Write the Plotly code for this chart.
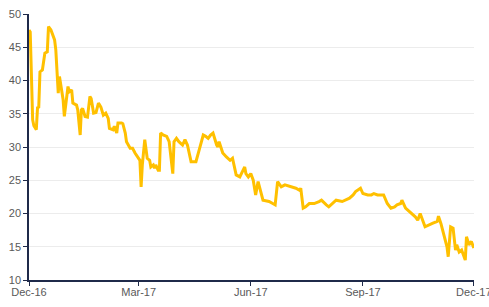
import plotly.graph_objects as go

dates = [
    "2016-12-01", "2016-12-02", "2016-12-04", "2016-12-05", "2016-12-07", "2016-12-08", "2016-12-09",
    "2016-12-10", "2016-12-12", "2016-12-14", "2016-12-16", "2016-12-17", "2016-12-19", "2016-12-22",
    "2016-12-23", "2016-12-25", "2016-12-26", "2016-12-28", "2016-12-29", "2016-12-30",
    "2017-01-01", "2017-01-02", "2017-01-03", "2017-01-05", "2017-01-06", "2017-01-09", "2017-01-10",
    "2017-01-12", "2017-01-13", "2017-01-14", "2017-01-16", "2017-01-18", "2017-01-20", "2017-01-21",
    "2017-01-23", "2017-01-25", "2017-01-27", "2017-01-29", "2017-01-31",
    "2017-02-02", "2017-02-04", "2017-02-05", "2017-02-08", "2017-02-09", "2017-02-11", "2017-02-12",
    "2017-02-15", "2017-02-16", "2017-02-18", "2017-02-19", "2017-02-22", "2017-02-24", "2017-02-26",
    "2017-02-28",
    "2017-03-02", "2017-03-03", "2017-03-04", "2017-03-06", "2017-03-07", "2017-03-08", "2017-03-10",
    "2017-03-11", "2017-03-13", "2017-03-14", "2017-03-15", "2017-03-17", "2017-03-18", "2017-03-19",
    "2017-03-21", "2017-03-24", "2017-03-26", "2017-03-29", "2017-03-30",
    "2017-04-01", "2017-04-03", "2017-04-06", "2017-04-08", "2017-04-10", "2017-04-13", "2017-04-17",
    "2017-04-20", "2017-04-23", "2017-04-25", "2017-04-27", "2017-04-29",
    "2017-05-01", "2017-05-04", "2017-05-05", "2017-05-06", "2017-05-09", "2017-05-12", "2017-05-15",
    "2017-05-17", "2017-05-20", "2017-05-23", "2017-05-27", "2017-05-28", "2017-05-30",
    "2017-06-01", "2017-06-03", "2017-06-05", "2017-06-06", "2017-06-07", "2017-06-11", "2017-06-16",
    "2017-06-19", "2017-06-21", "2017-06-23", "2017-06-26", "2017-06-29",
    "2017-07-04", "2017-07-08", "2017-07-11", "2017-07-12", "2017-07-14", "2017-07-16", "2017-07-19",
    "2017-07-23", "2017-07-27", "2017-07-29",
    "2017-08-02", "2017-08-04", "2017-08-10", "2017-08-15", "2017-08-21", "2017-08-24", "2017-08-26",
    "2017-08-30",
    "2017-09-01", "2017-09-05", "2017-09-08", "2017-09-10", "2017-09-13", "2017-09-18", "2017-09-21",
    "2017-09-24", "2017-09-27", "2017-09-29",
    "2017-10-02", "2017-10-03", "2017-10-06", "2017-10-10", "2017-10-14", "2017-10-16", "2017-10-18",
    "2017-10-22", "2017-10-25", "2017-10-28",
    "2017-11-01", "2017-11-02", "2017-11-04", "2017-11-07", "2017-11-09", "2017-11-10", "2017-11-12",
    "2017-11-14", "2017-11-16", "2017-11-17", "2017-11-19", "2017-11-21", "2017-11-23", "2017-11-24",
    "2017-11-25", "2017-11-27", "2017-11-29", "2017-12-01",
]

values = [
    47.6, 47.3, 34.1, 33.2, 32.6, 35.9, 36.0,
    41.3, 41.6, 44.1, 44.3, 48.1, 47.6, 46.1,
    44.6, 38.1, 40.6, 38.1, 37.1, 34.6,
    38.3, 39.1, 38.3, 38.6, 36.6, 36.3, 35.6,
    31.8, 35.6, 35.8, 34.6, 34.5, 37.6, 37.3,
    35.1, 35.2, 36.6, 36.0, 34.8,
    35.1, 34.3, 32.8, 32.6, 33.1, 32.1, 33.6,
    33.6, 33.5, 32.1, 30.8, 29.8, 29.8, 29.1,
    28.5,
    28.0, 24.0, 27.3, 31.1, 29.6, 28.3, 28.0,
    27.0, 27.3, 26.8, 27.3, 26.5, 26.5, 32.1,
    31.8, 31.6, 30.8, 26.0, 30.8,
    31.3, 30.8, 30.3, 31.1, 30.3, 27.8, 27.8,
    29.8, 31.8, 31.6, 31.3, 31.8,
    32.1, 30.3, 30.0, 30.8, 29.1, 28.5, 28.0,
    28.3, 25.8, 25.5, 27.0, 26.0, 25.5,
    26.0, 25.0, 22.8, 24.0, 24.8, 22.0, 21.8,
    21.5, 21.3, 24.8, 24.0, 24.3,
    24.0, 23.8, 23.5, 23.8, 20.8, 21.0, 21.5,
    21.5, 21.8, 22.0,
    21.3, 21.0, 22.0, 21.8, 22.3, 22.8, 23.3,
    23.8,
    23.0, 22.8, 22.8, 23.0, 22.8, 22.8, 21.5,
    20.8, 21.0, 21.3,
    21.5, 22.0, 20.8, 20.2, 19.5, 19.0, 20.0,
    18.0, 18.3, 18.5,
    18.8, 19.6, 18.5, 16.5, 15.0, 13.5, 18.0,
    17.8, 14.5, 15.3, 14.2, 14.5, 13.5, 13.0,
    16.5, 15.3, 15.8, 14.8,
]

x_ticks = ["2016-12-01", "2017-03-01", "2017-06-01", "2017-09-01", "2017-12-01"]
x_ticklabels = ["Dec-16", "Mar-17", "Jun-17", "Sep-17", "Dec-17"]
y_ticks = [10, 15, 20, 25, 30, 35, 40, 45, 50]

axis_color = "#1f2a4a"
text_color = "#595959"

fig = go.Figure(
    go.Scatter(
        x=dates,
        y=values,
        mode="lines",
        line=dict(color="#FFC000", width=3),
        hoverinfo="x+y",
    )
)

fig.update_layout(
    width=489,
    height=307,
    margin=dict(l=29, r=15, t=14, b=27),
    paper_bgcolor="white",
    plot_bgcolor="white",
    showlegend=False,
    font=dict(family="Liberation Sans, Arial, sans-serif", size=11, color=text_color),
)

fig.update_xaxes(
    range=["2016-12-01", "2017-12-01 04:00"],
    automargin=False,
    tickmode="array",
    tickvals=x_ticks,
    ticktext=x_ticklabels,
    ticklabeloverflow="allow",
    ticklabelstandoff=-3,
    showgrid=False,
    showline=True,
    linecolor=axis_color,
    linewidth=1.5,
    ticks="outside",
    ticklen=4,
    tickcolor=axis_color,
    tickfont=dict(size=11, color=text_color),
    zeroline=False,
)

fig.update_yaxes(
    range=[10, 50],
    automargin=False,
    tickmode="array",
    tickvals=y_ticks,
    showgrid=True,
    gridcolor="#ececec",
    gridwidth=1,
    showline=True,
    linecolor=axis_color,
    linewidth=1.5,
    ticks="outside",
    ticklen=4,
    tickcolor=axis_color,
    tickfont=dict(size=11, color=text_color),
    zeroline=False,
)

fig.write_html("out.html")
